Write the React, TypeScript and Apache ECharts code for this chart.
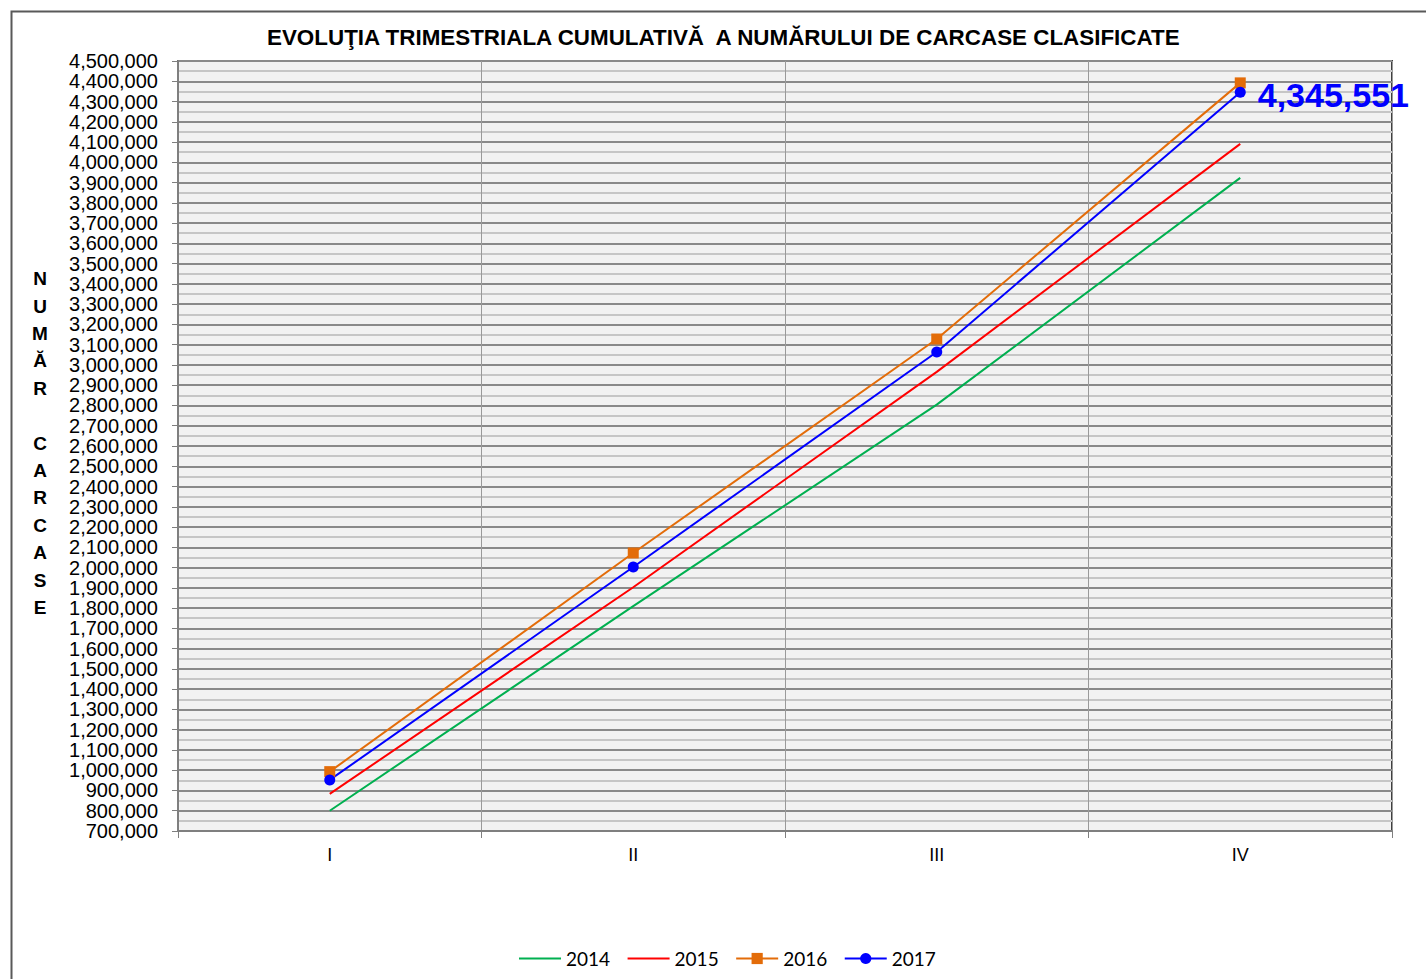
import React, { useEffect, useRef } from "react";
import * as echarts from "echarts";

const categories = ["I", "II", "III", "IV"];
const seriesNames = ["2014", "2015", "2016", "2017"];
const values2014 = [800000, 1810000, 2804000, 3923000];
const values2015 = [883000, 1903000, 2966000, 4091000];
const values2016 = [993000, 2072000, 3128000, 4392000];
const values2017 = [952000, 2003000, 3064000, 4345551];
const yMin = 700000;
const yMax = 4500000;
const yInterval = 100000;
const titleText = "EVOLUŢIA TRIMESTRIALA CUMULATIVĂ  A NUMĂRULUI DE CARCASE CLASIFICATE";
const yAxisTitle = "N\nU\nM\nĂ\nR\n\nC\nA\nR\nC\nA\nS\nE";

const fmt = (v: number) => Math.round(v).toLocaleString("en-US");

export default function App() {
  const ref = useRef<HTMLDivElement>(null);
  useEffect(() => {
    if (!ref.current) return;
    const chart = echarts.init(ref.current, null, { renderer: "svg" });
    const lastIdx = values2017.length - 1;
    chart.setOption({
      animation: false,
      backgroundColor: "#ffffff",
      title: {
        text: titleText,
        left: 262,
        top: 21,
        textStyle: {
          fontFamily: "Liberation Sans, Arial, sans-serif",
          fontWeight: "bold",
          fontSize: 22.4,
          color: "#000",
        },
      },
      graphic: [
        {
          type: "rect",
          left: 9,
          top: 9,
          shape: { x: 0, y: 0, width: 1440, height: 1000 },
          style: { fill: "none", stroke: "#595959", lineWidth: 2 },
          silent: true,
          z: 100,
        },
        {
          type: "text",
          x: 40,
          y: 443,
          style: {
            text: yAxisTitle,
            fontFamily: "Liberation Sans, Arial, sans-serif",
            fontWeight: "bold",
            fontSize: 19,
            lineHeight: 27.4,
            fill: "#000",
            textAlign: "center",
            textVerticalAlign: "middle",
          },
        },
      ],
      legend: {
        left: 513,
        top: 944,
        itemWidth: 42,
        itemHeight: 14,
        itemGap: 16.5,
        data: [
          { name: seriesNames[0], itemStyle: { opacity: 0 } },
          { name: seriesNames[1], itemStyle: { opacity: 0 } },
          { name: seriesNames[2] },
          { name: seriesNames[3] },
        ],
        textStyle: { fontFamily: "Lato, sans-serif", fontSize: 19, color: "#000" },
      },
      grid: {
        left: 178,
        right: 34,
        top: 61,
        bottom: 148,
        show: true,
        backgroundColor: "#f2f2f2",
        borderColor: "#404040",
        borderWidth: 2,
      },
      xAxis: {
        type: "category",
        data: categories,
        boundaryGap: true,
        axisLine: { show: true, lineStyle: { color: "#7f7f7f", width: 2 } },
        axisTick: { show: true, length: 7, lineStyle: { color: "#7f7f7f", width: 1 } },
        axisLabel: {
          margin: 15,
          fontFamily: "Liberation Sans, Arial, sans-serif",
          fontSize: 18,
          color: "#000",
        },
        splitLine: { show: true, lineStyle: { color: "#9a9a9a", width: 1 } },
      },
      yAxis: {
        type: "value",
        min: yMin,
        max: yMax,
        interval: yInterval,
        axisLine: { show: true, lineStyle: { color: "#7f7f7f", width: 2 } },
        axisTick: { show: true, length: 6, lineStyle: { color: "#7f7f7f", width: 1 } },
        axisLabel: {
          margin: 20,
          fontFamily: "Liberation Sans, Arial, sans-serif",
          fontSize: 20,
          color: "#000",
          formatter: (v: number) => fmt(v),
        },
        splitLine: { show: true, lineStyle: { color: "#8a8a8a", width: 2 } },
        minorTick: { show: false, splitNumber: 2 },
        minorSplitLine: { show: true, lineStyle: { color: "#c6c6c6", width: 2 } },
      },
      series: [
        {
          name: seriesNames[0],
          type: "line",
          data: values2014,
          symbol: "none",
          lineStyle: { color: "#00b050", width: 2 },
          itemStyle: { color: "#00b050" },
        },
        {
          name: seriesNames[1],
          type: "line",
          data: values2015,
          symbol: "none",
          lineStyle: { color: "#ff0000", width: 2 },
          itemStyle: { color: "#ff0000" },
        },
        {
          name: seriesNames[2],
          type: "line",
          data: values2016,
          symbol: "rect",
          symbolSize: 11,
          lineStyle: { color: "#e36c09", width: 2 },
          itemStyle: { color: "#e36c09" },
        },
        {
          name: seriesNames[3],
          type: "line",
          data: values2017.map((v, i) =>
            i === lastIdx
              ? {
                  value: v,
                  label: {
                    show: true,
                    position: "right",
                    distance: 12,
                    formatter: (p: any) => fmt(p.value),
                    fontFamily: "Liberation Sans, Arial, sans-serif",
                    fontWeight: "bold",
                    fontSize: 34,
                    color: "#0000ff",
                    offset: [0, 3],
                  },
                }
              : v
          ),
          symbol: "circle",
          symbolSize: 11,
          lineStyle: { color: "#0000ff", width: 2 },
          itemStyle: { color: "#0000ff" },
          z: 3,
        },
      ],
    });
    return () => chart.dispose();
  }, []);
  return (
    <div
      ref={ref}
      style={{ position: "fixed", left: 0, top: 0, width: 1426, height: 979 }}
    />
  );
}
